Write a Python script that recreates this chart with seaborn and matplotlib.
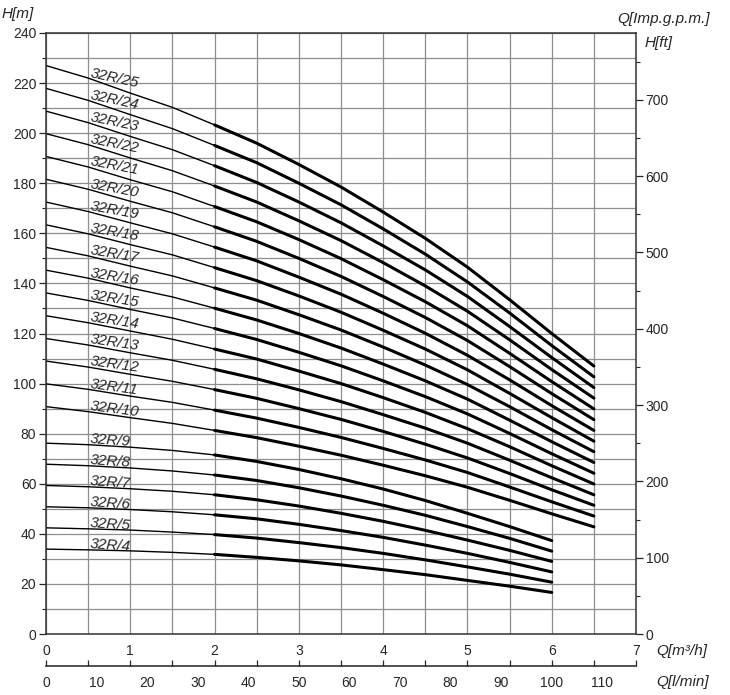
import numpy as np
import pandas as pd
import matplotlib
matplotlib.use('Agg')
import matplotlib.pyplot as plt
import seaborn as sns
from matplotlib.ticker import MultipleLocator, NullFormatter

sns.set_style('white')
plt.rcParams['font.family'] = ['Liberation Sans', 'DejaVu Sans']

# ---------------------------------------------------------------------------
# data: Q in m3/h, H in m
# ---------------------------------------------------------------------------
q_long = [0, 0.5, 1, 1.5, 2, 2.5, 3, 3.5, 4, 4.5, 5, 5.5, 6, 6.5]   # 32R/10 .. 32R/25
q_short = [0, 0.5, 1, 1.5, 2, 2.5, 3, 3.5, 4, 4.5, 5, 5.5, 6]       # 32R/4 .. 32R/9

h25 = [227.0, 222.0, 216.0, 210.3, 203.3, 196.0, 187.5, 178.5, 168.5, 158.0, 146.5, 133.5, 120.0, 107.0]
h24 = [217.9, 213.1, 207.4, 201.8, 195.1, 188.2, 180.0, 171.4, 161.8, 151.7, 140.6, 128.2, 115.2, 102.7]
h23 = [208.8, 204.2, 198.7, 193.4, 187.0, 180.3, 172.5, 164.2, 155.0, 145.4, 134.8, 122.8, 110.4, 98.4]
h22 = [199.8, 195.4, 190.1, 185.0, 178.9, 172.5, 165.0, 157.1, 148.3, 139.0, 128.9, 117.5, 105.6, 94.2]
h21 = [190.7, 186.5, 181.4, 176.6, 170.7, 164.6, 157.5, 149.9, 141.5, 132.7, 123.1, 112.1, 100.8, 89.9]
h20 = [181.6, 177.6, 172.8, 168.2, 162.6, 156.8, 150.0, 142.8, 134.8, 126.4, 117.2, 106.8, 96.0, 85.6]
h19 = [172.5, 168.7, 164.2, 159.8, 154.5, 149.0, 142.5, 135.7, 128.1, 120.1, 111.3, 101.5, 91.2, 81.3]
h18 = [163.4, 159.8, 155.5, 151.4, 146.3, 141.1, 135.0, 128.5, 121.3, 113.8, 105.5, 96.1, 86.4, 77.0]
h17 = [154.4, 151.0, 146.9, 143.0, 138.2, 133.3, 127.5, 121.4, 114.6, 107.4, 99.6, 90.8, 81.6, 72.8]
h16 = [145.3, 142.1, 138.2, 134.6, 130.1, 125.4, 120.0, 114.2, 107.8, 101.1, 93.8, 85.4, 76.8, 68.5]
h15 = [136.2, 133.2, 129.6, 126.2, 122.0, 117.6, 112.5, 107.1, 101.1, 94.8, 87.9, 80.1, 72.0, 64.2]
h14 = [127.1, 124.3, 121.0, 117.7, 113.8, 109.8, 105.0, 100.0, 94.4, 88.5, 82.0, 74.8, 67.2, 59.9]
h13 = [118.0, 115.4, 112.3, 109.3, 105.7, 101.9, 97.5, 92.8, 87.6, 82.2, 76.2, 69.4, 62.4, 55.6]
h12 = [109.0, 106.6, 103.7, 100.9, 97.6, 94.1, 90.0, 85.7, 80.9, 75.8, 70.3, 64.1, 57.6, 51.4]
h11 = [99.9, 97.7, 95.0, 92.5, 89.4, 86.2, 82.5, 78.5, 74.1, 69.5, 64.5, 58.7, 52.8, 47.1]
h10 = [90.8, 88.8, 86.4, 84.1, 81.3, 78.4, 75.0, 71.4, 67.4, 63.2, 58.6, 53.4, 48.0, 42.8]

h9 = [76.2, 75.6, 74.6, 73.3, 71.5, 68.9, 65.7, 62.0, 57.9, 53.3, 48.2, 42.9, 37.3]
h8 = [67.8, 67.2, 66.3, 65.1, 63.5, 61.3, 58.4, 55.1, 51.4, 47.4, 42.9, 38.2, 33.1]
h7 = [59.3, 58.8, 58.0, 57.0, 55.6, 53.6, 51.1, 48.2, 45.0, 41.4, 37.5, 33.4, 29.0]
h6 = [50.8, 50.4, 49.7, 48.8, 47.6, 46.0, 43.8, 41.3, 38.6, 35.5, 32.2, 28.6, 24.8]
h5 = [42.4, 42.0, 41.5, 40.7, 39.7, 38.3, 36.5, 34.5, 32.2, 29.6, 26.8, 23.9, 20.7]
h4 = [33.9, 33.6, 33.2, 32.6, 31.8, 30.6, 29.2, 27.6, 25.7, 23.7, 21.4, 19.1, 16.6]

stages_long = [25, 24, 23, 22, 21, 20, 19, 18, 17, 16, 15, 14, 13, 12, 11, 10]
heads_long = [h25, h24, h23, h22, h21, h20, h19, h18, h17, h16, h15, h14, h13, h12, h11, h10]
stages_short = [9, 8, 7, 6, 5, 4]
heads_short = [h9, h8, h7, h6, h5, h4]

x_ticks = [0, 1, 2, 3, 4, 5, 6, 7]
h_ticks = list(range(0, 241, 20))
ft_ticks = list(range(0, 701, 100))
lmin_ticks = list(range(0, 111, 10))

rows = []
for n, h in zip(stages_long, heads_long):
    for q, v in zip(q_long, h):
        rows.append({'model': f'32R/{n}', 'stages': n, 'Q': q, 'H': v})
for n, h in zip(stages_short, heads_short):
    for q, v in zip(q_short, h):
        rows.append({'model': f'32R/{n}', 'stages': n, 'Q': q, 'H': v})
df = pd.DataFrame(rows)

# ---------------------------------------------------------------------------
W, H = 730, 695
fig = plt.figure(figsize=(W / 100, H / 100), dpi=100)
left, right, top, bottom = 46, 636, 33, 634
ax = fig.add_axes([left / W, 1 - bottom / H, (right - left) / W, (bottom - top) / H])

grid_c = '#8e8e8e'
ax.set_xlim(0, 7)
ax.set_ylim(0, 240)
ax.xaxis.set_minor_locator(MultipleLocator(0.5))
ax.yaxis.set_minor_locator(MultipleLocator(10))
ax.set_xticks(x_ticks)
ax.set_yticks(h_ticks)
ax.grid(True, which='both', color=grid_c, lw=0.9)
ax.set_axisbelow(True)

# thin part up to 2 m3/h, thick working range after
thin = df[df['Q'] <= 2]
thick = df[df['Q'] >= 2]
sns.lineplot(data=thin, x='Q', y='H', units='model', estimator=None,
             color='black', lw=1.0, legend=False, ax=ax)
sns.lineplot(data=thick, x='Q', y='H', units='model', estimator=None,
             color='black', lw=2.2, legend=False, ax=ax)

# model labels sitting on the curves
for n, h in zip(stages_long, heads_long):
    y0 = np.interp(0.52, q_long, h)
    ax.text(0.52, y0 + 0.8, f'32R/{n}', rotation=-(4 + 0.33 * n), rotation_mode='anchor',
            ha='left', va='baseline', style='italic', fontsize=11)
for n, h in zip(stages_short, heads_short):
    y0 = np.interp(0.52, q_short, h)
    ax.text(0.52, y0 + 0.8, f'32R/{n}', rotation=-4, rotation_mode='anchor',
            ha='left', va='baseline', style='italic', fontsize=11)

ax.set_xlabel('')
ax.set_ylabel('')
ax.tick_params(axis='x', which='both', length=0, pad=7, labelsize=10)
ax.tick_params(axis='y', which='major', direction='out', length=5, width=0.9, pad=2, labelsize=10, left=True)
ax.tick_params(axis='y', which='minor', direction='out', length=3, width=0.8, left=True)
for s in ax.spines.values():
    s.set_color('#333333')
    s.set_linewidth(1.1)

# right axis in feet
ax2 = ax.twinx()
ax2.set_ylim(0, 240 * 3.28084)
ax2.set_yticks(ft_ticks)
ax2.yaxis.set_minor_locator(MultipleLocator(50))
ax2.tick_params(axis='y', which='major', direction='out', length=5, width=0.9, pad=2, labelsize=10, right=True)
ax2.tick_params(axis='y', which='minor', direction='out', length=3, width=0.8, right=True)
ax2.grid(False)
for s in ax2.spines.values():
    s.set_visible(False)

# flow scale in l/min below the plot
lmin_y = 666
axl = fig.add_axes([left / W, 1 - lmin_y / H, (right - left) / W, 0.0001])
axl.set_xlim(0, 7 * 1000 / 60)
axl.set_yticks([])
axl.set_xticks(lmin_ticks)
axl.xaxis.set_minor_locator(MultipleLocator(5))
axl.tick_params(axis='x', which='major', direction='out', length=4, width=0.9, pad=3, labelsize=10)
axl.tick_params(axis='x', which='minor', direction='out', length=2.5, width=0.8)
for k in ['left', 'right', 'top']:
    axl.spines[k].set_visible(False)
axl.spines['bottom'].set_color('#222222')
axl.spines['bottom'].set_linewidth(1.1)
axt = axl.secondary_xaxis('top', functions=(lambda l: l * 60 / 1000, lambda q: q * 1000 / 60))
axt.set_xticks(np.arange(0, 7.01, 0.5))
axt.xaxis.set_major_formatter(NullFormatter())
axt.tick_params(axis='x', direction='out', length=4, width=0.9)
axt.spines['top'].set_visible(False)

# axis titles
it = dict(style='italic', fontsize=11)
fig.text(2 / W, 1 - 14 / H, 'H[m]', ha='left', va='center', **it)
fig.text(710 / W, 1 - 19 / H, 'Q[Imp.g.p.m.]', ha='right', va='center', **it)
fig.text(645 / W, 1 - 43 / H, 'H[ft]', ha='left', va='center', **it)
fig.text(656 / W, 1 - 651 / H, 'Q[m³/h]', ha='left', va='center', **it)
fig.text(656 / W, 1 - 682 / H, 'Q[l/min]', ha='left', va='center', **it)

plt.savefig('out.png', dpi=100)
plt.close()
